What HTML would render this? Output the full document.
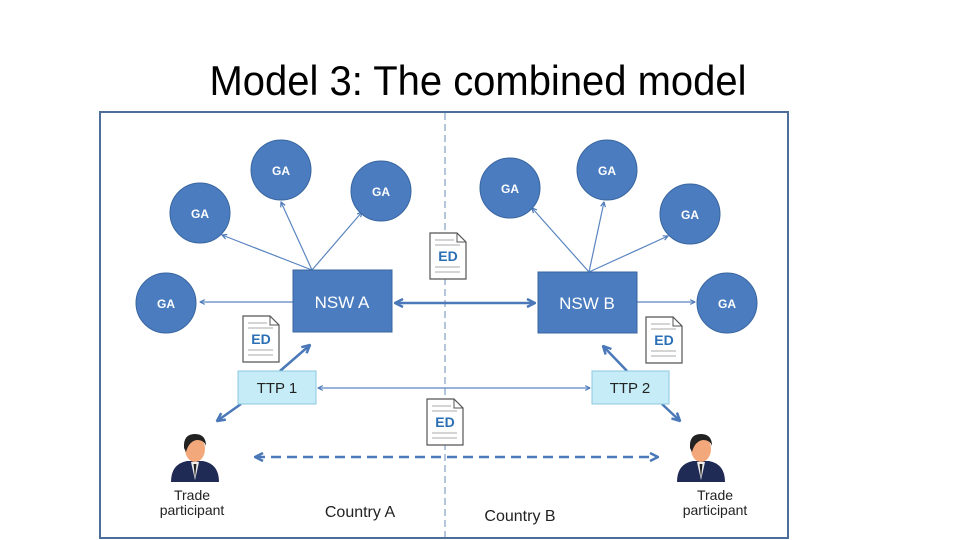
<!DOCTYPE html>
<html><head><meta charset="utf-8"><style>
html,body{margin:0;padding:0;background:#fff;width:960px;height:540px;overflow:hidden}
svg{display:block}
</style></head><body>
<svg width="960" height="540" viewBox="0 0 960 540" xmlns="http://www.w3.org/2000/svg" font-family="'Liberation Sans', sans-serif">
<defs>
<marker id="a" viewBox="0 0 10 10" refX="9" refY="5" markerWidth="5" markerHeight="5" orient="auto-start-reverse"><path d="M1,1 L9,5 L1,9" fill="none" stroke="#4a78b8" stroke-width="2"/></marker>
<marker id="b" viewBox="0 0 10 10" refX="9" refY="5" markerWidth="4" markerHeight="4" orient="auto-start-reverse"><path d="M1,1 L9,5 L1,9" fill="none" stroke="#4a78b8" stroke-width="2.5"/></marker>
<g id="doc"><path d="M0,0 H27 L36,9 V46 H0 Z" fill="#fff" stroke="#555" stroke-width="1.2"/><path d="M27,0 V9 H36" fill="none" stroke="#555" stroke-width="1"/><line x1="5" y1="7" x2="24" y2="7" stroke="#aaa"/><line x1="5" y1="12" x2="30" y2="12" stroke="#aaa"/><text x="18" y="28" text-anchor="middle" font-size="14" font-weight="bold" fill="#2a6fb5">ED</text><line x1="5" y1="34" x2="30" y2="34" stroke="#aaa"/><line x1="5" y1="39" x2="30" y2="39" stroke="#aaa"/></g>
<g id="p"><path d="M-24,32 Q-24,14 -8,11 L8,11 Q24,14 24,32 Z" fill="#1f2a55"/><path d="M-4,12 L0,30 L4,12 Z" fill="#eee"/><path d="M-1.5,14 L0,28 L1.5,14Z" fill="#222"/><ellipse cx="0" cy="-1" rx="10" ry="13" fill="#f2a87a"/><path d="M-11,-2 Q-12,-16 0,-16 Q11,-16 11,-4 Q9,-10 2,-10 Q-6,-9 -9,2 Z" fill="#222"/></g>
</defs>
<text x="478" y="95" text-anchor="middle" font-size="42" fill="#000" textLength="537" lengthAdjust="spacingAndGlyphs">Model 3: The combined model</text>
<rect x="100" y="112" width="688" height="426" fill="#fff" stroke="#4d6e98" stroke-width="2"/>
<line x1="445" y1="113" x2="445" y2="537" stroke="#9ab3d0" stroke-width="1.5" stroke-dasharray="7,4"/>
<g stroke="#5a85c0" stroke-width="1.2" fill="none" marker-end="url(#a)">
<line x1="312" y1="270" x2="222" y2="235"/>
<line x1="312" y1="270" x2="281" y2="202"/>
<line x1="312" y1="270" x2="362" y2="212"/>
<line x1="293" y1="302" x2="200" y2="302"/>
<line x1="589" y1="272" x2="532" y2="208"/>
<line x1="589" y1="272" x2="604" y2="202"/>
<line x1="589" y1="272" x2="668" y2="236"/>
<line x1="637" y1="302" x2="695" y2="302"/>
<line x1="318" y1="388" x2="590" y2="388" marker-start="url(#a)"/>
</g>
<g stroke="#4a78b8" stroke-width="2.5" fill="none" marker-end="url(#b)">
<line x1="395" y1="303" x2="535" y2="303" marker-start="url(#b)"/>
<line x1="280" y1="371" x2="310" y2="345"/>
<line x1="241" y1="404" x2="217" y2="421"/>
<line x1="627" y1="371" x2="603" y2="346"/>
<line x1="662" y1="404" x2="680" y2="421"/>
<line x1="255" y1="457" x2="658" y2="457" stroke-dasharray="10,6" marker-start="url(#b)"/>
</g>
<g fill="#4a7cbf" stroke="#3a66a0" stroke-width="1">
<circle cx="200" cy="213" r="30"/><circle cx="281" cy="170" r="30"/><circle cx="381" cy="191" r="30"/><circle cx="166" cy="303" r="30"/>
<circle cx="510" cy="188" r="30"/><circle cx="607" cy="170" r="30"/><circle cx="690" cy="214" r="30"/><circle cx="727" cy="303" r="30"/>
<rect x="293" y="270" width="99" height="62"/><rect x="538" y="272" width="99" height="61"/>
</g>
<g fill="#fff" font-size="12" font-weight="bold" text-anchor="middle">
<text x="200" y="218">GA</text><text x="281" y="175">GA</text><text x="381" y="196">GA</text><text x="166" y="308">GA</text>
<text x="510" y="193">GA</text><text x="607" y="175">GA</text><text x="690" y="219">GA</text><text x="727" y="308">GA</text>
<text x="342" y="308" font-size="17" font-weight="normal">NSW A</text><text x="587" y="309" font-size="17" font-weight="normal">NSW B</text>
</g>
<use href="#doc" x="430" y="233"/><use href="#doc" x="243" y="316"/><use href="#doc" x="646" y="317"/><use href="#doc" x="427" y="399"/>
<rect x="238" y="371" width="78" height="33" fill="#c6ecf8" stroke="#8cc8e0"/>
<rect x="592" y="371" width="77" height="33" fill="#c6ecf8" stroke="#8cc8e0"/>
<text x="277" y="393" text-anchor="middle" font-size="15" fill="#222">TTP 1</text>
<text x="630" y="393" text-anchor="middle" font-size="15" fill="#222">TTP 2</text>
<use href="#p" x="195" y="450"/><use href="#p" x="701" y="450"/>
<g font-size="14" fill="#222" text-anchor="middle">
<text x="192" y="500">Trade</text><text x="192" y="515">participant</text>
<text x="715" y="500">Trade</text><text x="715" y="515">participant</text>
<text x="360" y="517" font-size="16">Country A</text>
<text x="520" y="521" font-size="16">Country B</text>
</g>
</svg>
</body></html>
